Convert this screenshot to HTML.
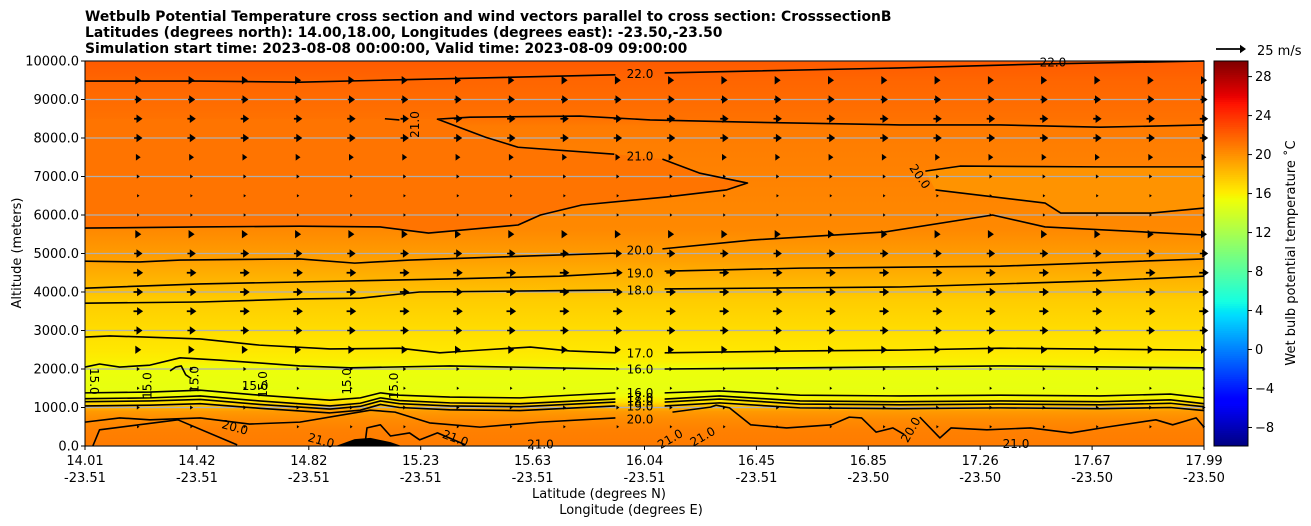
<!DOCTYPE html>
<html><head><meta charset="utf-8"><style>
body{margin:0;background:#fff;}
svg{display:block;font-family:"DejaVu Sans","Liberation Sans",sans-serif;}
</style></head><body>
<svg id="chart" width="1311" height="526" viewBox="0 0 1311 526">
<defs><linearGradient id="bg" gradientUnits="userSpaceOnUse" x1="0" y1="446" x2="0" y2="61"></linearGradient></defs>
<g font-weight="bold" font-size="13.9">
<text x="85" y="21">Wetbulb Potential Temperature cross section and wind vectors parallel to cross section: CrosssectionB</text>
<text x="85" y="37">Latitudes (degrees north): 14.00,18.00, Longitudes (degrees east): -23.50,-23.50</text>
<text x="85" y="53">Simulation start time: 2023-08-08 00:00:00, Valid time: 2023-08-09 09:00:00</text>
</g>
<g id="plot"></g>
</svg>
<script>
// ---- data ----
const profileAlt = [0,400,700,900,1000,1150,1300,1500,2000,2200,2500,3000,3800,4100,4500,4800,5200,5600,7000,8300,8500,9500,10000];
const profileTemp = [20.9,20.7,20.2,19.6,18.5,16.5,15.5,15.0,15.3,16.0,16.4,16.8,17.5,18.2,18.8,19.3,19.8,20.3,20.6,20.9,21.3,21.8,22.3];
const warmPocket = [[0,5660],[10.3,5690],[19.2,5710],[26.4,5690],[30.7,5530],[38.7,5740],[40.7,6000],[44.4,6260],[52.0,6470],[57.3,6650],[59.2,6830],[54.9,7090],[51.6,7450],[47.3,7580],[38.7,7760],[35.8,8020],[31.5,8490],[26.8,8500],[0,8500]];
const coolPocket = [[75.1,7140],[78.2,7270],[90.7,7250],[100,7250],[100,6180],[95.3,6050],[87.2,6050],[85.8,6310],[76.0,6650]];
const terrain = [[22.4,0],[24.1,180],[25.5,210],[27.3,100],[28.3,0]];
const contours = [
 [[0,9480],[10.3,9480],[19.2,9450],[26.4,9500],[47.4,9640]],
 [[51.8,9690],[72.8,9820],[85.3,9920],[100,10000]],
 [[26.8,8500],[28.1,8470]],
 [[47.3,7580],[38.7,7760],[35.8,8020],[31.5,8490],[34.4,8540],[44.2,8570],[50.5,8470],[59.4,8410],[72.8,8340],[81.8,8340],[90.7,8280],[100,8340]],
 [[51.6,7450],[54.9,7090],[59.2,6830],[57.3,6650],[52.0,6470],[44.4,6260],[40.7,6000],[38.7,5740],[30.7,5530],[26.4,5690],[19.2,5710],[10.3,5690],[0,5660]],
 [[75.1,7140],[78.2,7270],[90.7,7250],[100,7250]],
 [[76.0,6650],[85.8,6310],[87.2,6050],[95.3,6050],[100,6180]],
 [[0,4800],[4.9,4780],[8.5,4830],[19.2,4860],[24.1,4750],[29.0,4830],[37.1,4910],[47.4,5010]],
 [[51.6,5120],[59.6,5350],[71.5,5560],[81.1,6000],[85.8,5690],[100,5480]],
 [[0,4100],[10.3,4210],[19.2,4260],[32.6,4340],[42.4,4410],[47.4,4490]],
 [[51.8,4540],[63.9,4620],[81.8,4670],[100,4860]],
 [[0,3710],[10.3,3740],[19.2,3820],[24.6,3840],[29.9,4000],[47.4,4050]],
 [[51.8,4080],[72.8,4130],[90.7,4290],[100,4410]],
 [[0,2830],[2.2,2860],[10.3,2780],[15.6,2620],[21.9,2520],[28.1,2540],[31.7,2420],[35.3,2490],[39.8,2570],[43.3,2470],[47.4,2420]],
 [[51.8,2420],[63.9,2470],[72.8,2490],[81.8,2540],[100,2490]],
 [[0,2050],[1.3,2130],[3.1,2050],[5.8,2100],[8.5,2290],[12.1,2230],[19.2,2080],[23.7,2030],[32.6,2080],[47.4,2000]],
 [[51.8,2000],[63.9,2030],[81.8,2080],[100,2030]],
 [[0,1380],[5.8,1400],[10.3,1450],[15.6,1320],[21.9,1190],[24.6,1250],[26.4,1380],[28.1,1320],[32.6,1270],[38.9,1250],[47.4,1380]],
 [[51.8,1380],[56.7,1430],[63.9,1320],[72.8,1300],[81.8,1320],[90.7,1300],[97,1350],[100,1250]],
 [[0,1230],[5.8,1250],[10.3,1300],[15.6,1170],[21.9,1040],[24.6,1110],[26.4,1250],[28.1,1180],[32.6,1120],[38.9,1100],[47.4,1220]],
 [[51.8,1220],[56.7,1300],[63.9,1170],[72.8,1150],[81.8,1170],[90.7,1150],[97,1200],[100,1100]],
 [[0,1150],[5.8,1170],[10.3,1210],[15.6,1080],[21.9,960],[24.6,1030],[26.4,1170],[28.1,1100],[32.6,1040],[38.9,1020],[47.4,1140]],
 [[51.8,1140],[56.7,1220],[63.9,1090],[72.8,1070],[81.8,1090],[90.7,1070],[97,1110],[100,1020]],
 [[0,1040],[5.8,1060],[10.3,1100],[15.6,980],[21.9,860],[24.6,930],[26.4,1080],[28.1,1000],[32.6,940],[38.9,920],[47.4,1040]],
 [[51.8,1040],[56.7,1120],[63.9,990],[72.8,970],[81.8,990],[90.7,970],[97,1000],[100,920]],
 [[0,620],[3.1,730],[5.8,680],[10.3,730],[14.7,570],[19.2,620],[25.5,930],[27.7,880],[30.8,600],[35.3,490],[40.7,620],[47.4,730]],
 [[52.5,880],[55.9,1010],[56.4,1060],[57.6,990],[59.5,550],[62.7,470],[66.7,550],[68.3,750],[69.4,730],[70.7,360],[72.2,470],[73.2,300]],
 [[74.6,750],[76.4,210],[77.4,470],[80.6,420],[84.5,470],[88.1,340],[91.3,490],[95.7,680],[97.2,550],[99.3,730],[100,490]],
 [[0.7,0],[1.3,420],[8.3,680],[13.6,30]],
 [[25.0,0],[25.2,470],[26.4,550],[27.3,260],[29.0,340],[29.9,160],[31.5,340],[34.0,30]],
 [[7.6,1950],[8.1,2050],[8.6,2080],[9.0,1850],[9.5,1750]]
];
const labelText = ["22.0","22.0","21.0","21.0","20.0","20.0","19.0","18.0","17.0","16.0","16.0","17.0","18.0","19.0","20.0","20.0","20.0","21.0","21.0","21.0","21.0","21.0","21.0","15.0","15.0","15.0","15.0","15.0","15.0","15.0"];
const labelPct = [49.6,86.5,29.5,49.6,74.6,49.6,49.6,49.6,49.6,49.6,49.6,49.6,49.6,49.6,49.6,13.4,73.8,21.1,33.1,40.7,52.3,55.2,83.2,0.8,5.6,9.8,15.9,23.4,27.6,15.2];
const labelAlt = [9660,9960,8350,7520,7000,5080,4480,4040,2400,1990,1380,1250,1150,1020,690,480,420,140,200,40,180,240,50,1680,1570,1730,1600,1680,1560,1560];
const labelRot = [0,0,-90,0,55,0,0,0,0,0,0,0,0,0,0,15,-60,15,20,0,-30,-30,0,90,-90,-90,-90,-90,-90,0];
const arrowAlt = [500,1000,1500,2000,2500,3000,3500,4000,4500,5000,5500,6000,6500,7000,7500,8000,8500,9000,9500];
const arrowSpeed = [2,2.5,2,2.5,5,7,8,8,8,7,5,2,2,2.5,4,7,7,6,5];
const arrowCols = 21;
const yTicks = [0,1000,2000,3000,4000,5000,6000,7000,8000,9000,10000];
const xLat = ["14.01","14.42","14.82","15.23","15.63","16.04","16.45","16.85","17.26","17.67","17.99"];
const xLon = ["-23.51","-23.51","-23.51","-23.51","-23.51","-23.51","-23.51","-23.50","-23.50","-23.50","-23.50"];
const xTickFrac = [0,10,20,30,40,50,60,70,80,90,100];
const cbTicks = [-8,-4,0,4,8,12,16,20,24,28];
const cbMin = -9.9, cbMax = 29.6;

// ---- helpers ----
const L=85,R=1204,T=61,B=446;
const X = p => L + p/100*(R-L);
const Y = a => B - a/10000*(B-T);
const NS="http://www.w3.org/2000/svg";
function mk(tag, attrs, parent){const e=document.createElementNS(NS,tag);for(const k in attrs)e.setAttribute(k,attrs[k]);parent.appendChild(e);return e;}
function interp(pts,t){for(let i=1;i<pts.length;i++){if(t<=pts[i][0]){const a=pts[i-1],b=pts[i];const f=(t-a[0])/(b[0]-a[0]);return a[1]+f*(b[1]-a[1]);}}return pts[pts.length-1][1];}
function jet(v){const t=Math.max(0,Math.min(1,(v-cbMin)/(cbMax-cbMin)));
 const r=interp([[0,0],[0.35,0],[0.66,1],[0.89,1],[1,0.5]],t);
 const g=interp([[0,0],[0.125,0],[0.375,1],[0.64,1],[0.91,0],[1,0]],t);
 const b=interp([[0,0.5],[0.11,1],[0.34,1],[0.65,0],[1,0]],t);
 return `rgb(${Math.round(r*255)},${Math.round(g*255)},${Math.round(b*255)})`;}
const plot=document.getElementById('plot');
const grad=document.getElementById('bg');
profileAlt.forEach((a,i)=>{mk('stop',{offset:(a/10000).toFixed(4),'stop-color':jet(profileTemp[i])},grad);});

// background
const bgRect=mk('rect',{x:L,y:T,width:R-L,height:B-T,fill:'url(#bg)'},plot);


const wp=mk('polygon',{points:warmPocket.map(p=>X(p[0])+','+Y(p[1])).join(' '),fill:jet(21.2)},plot);


const cp=mk('polygon',{points:coolPocket.map(p=>X(p[0])+','+Y(p[1])).join(' '),fill:jet(19.9)},plot);



// grid
yTicks.forEach(v=>{const g=mk('line',{x1:L,x2:R,y1:Y(v),y2:Y(v),stroke:'#b0b0b0','stroke-width':1.2},plot);
 
 });

// contours
contours.forEach(c=>{const pl=mk('polyline',{points:c.map(p=>X(p[0])+','+Y(p[1])).join(' '),fill:'none',stroke:'#000','stroke-width':1.6,'stroke-linejoin':'round'},plot);
 
 });
const tr=mk('polygon',{points:terrain.map(p=>X(p[0])+','+Y(p[1])).join(' '),fill:'#000'},plot);


labelText.forEach((t,i)=>{const x=X(labelPct[i]),y=Y(labelAlt[i]);
 const e=mk('text',{x:x,y:y+4,'font-size':12,'text-anchor':'middle',transform:`rotate(${labelRot[i]} ${x} ${y})`},plot);
 e.textContent=t;
 
 });

// arrows
const pxPerMs=30/25;
function arrow(x,y,len,parent){
 const hl=Math.min(6,len), hw=hl*0.7, sw=Math.min(0.9,len/10);
 const s=len-hl;
 const pts=[[x,y-sw],[x+s,y-sw],[x+s,y-hw],[x+len,y],[x+s,y+hw],[x+s,y+sw],[x,y+sw]];
 return mk('polygon',{points:pts.map(p=>p[0].toFixed(1)+','+p[1].toFixed(1)).join(' '),fill:'#000'},parent);}
const ag=mk('g',{},plot);


arrowAlt.forEach((a,ri)=>{for(let c=1;c<=arrowCols;c++){
 const x=X(c/arrowCols*100), len=arrowSpeed[ri]*pxPerMs;
 const e=arrow(x-len/2,Y(a),len,ag);
 
 }});

// frame
const fr=mk('rect',{x:L,y:T,width:R-L,height:B-T,fill:'none',stroke:'#000','stroke-width':1},plot);



// y axis
yTicks.forEach(v=>{mk('line',{x1:L-4,x2:L,y1:Y(v),y2:Y(v),stroke:'#000'},plot);
 const t=mk('text',{x:L-6,y:Y(v)+4.5,'font-size':13,'text-anchor':'end'},plot);t.textContent=v.toFixed(1);
 
 });
const yt=mk('text',{x:21,y:253,'font-size':13,'text-anchor':'middle',transform:'rotate(-90 21 253)'},plot);
yt.textContent='Altitude (meters)';



// x axis
xLat.forEach((lat,i)=>{const x=X(xTickFrac[i]);mk('line',{x1:x,x2:x,y1:B,y2:B+4,stroke:'#000'},plot);
 const t=mk('text',{x:x,y:465,'font-size':13,'text-anchor':'middle'},plot);t.textContent=lat;
 
 
 const t2=mk('text',{x:x,y:482,'font-size':13,'text-anchor':'middle'},plot);t2.textContent=xLon[i];
 
 });
const xt1=mk('text',{x:599,y:498,'font-size':13,'text-anchor':'middle'},plot);xt1.textContent='Latitude (degrees N)';


const xt2=mk('text',{x:631,y:514,'font-size':13,'text-anchor':'middle'},plot);xt2.textContent='Longitude (degrees E)';



// quiver key
const qk=arrow(1216,49,30,plot);


const qt=mk('text',{x:1257,y:55,'font-size':13},plot);qt.textContent='25 m/s';



// colorbar
const CL=1214,CW=34;
const CY=v=>B-(v-cbMin)/(cbMax-cbMin)*(B-T);
const cbg=mk('g',{},plot);


for(let i=0;i<200;i++){const v0=cbMin+(cbMax-cbMin)*i/200,v1=cbMin+(cbMax-cbMin)*(i+1)/200;
 mk('rect',{x:CL,y:CY(v1),width:CW,height:CY(v0)-CY(v1)+0.5,fill:jet((v0+v1)/2)},cbg);}
mk('rect',{x:CL,y:T,width:CW,height:B-T,fill:'none',stroke:'#000'},cbg);
cbTicks.forEach(v=>{mk('line',{x1:CL+CW,x2:CL+CW+4,y1:CY(v),y2:CY(v),stroke:'#000'},cbg);
 const t=mk('text',{x:CL+CW+7,y:CY(v)+4.5,'font-size':13},cbg);t.textContent=v<0?'\u2212'+(-v):String(v);
 
 });
const ct=mk('text',{x:1295,y:253,'font-size':13,'text-anchor':'middle',transform:'rotate(-90 1295 253)'},plot);
ct.textContent='Wet bulb potential temperature \u02DAC';


</script>
</body></html>
